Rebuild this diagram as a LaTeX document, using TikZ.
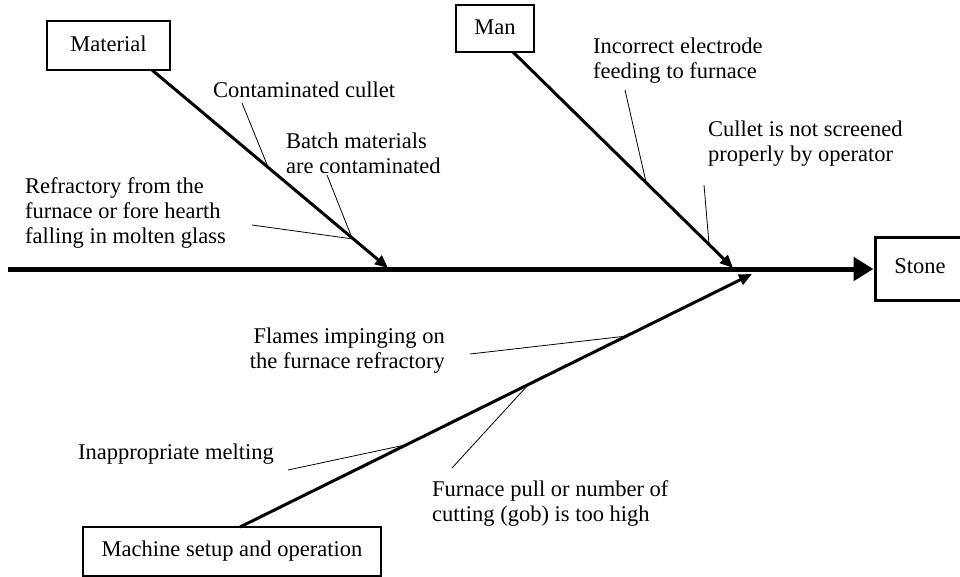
\documentclass[tikz,border=0pt]{standalone}
\usepackage{fontspec}
\setmainfont{Liberation Serif}
\usetikzlibrary{arrows.meta,calc}
\begin{document}
\begin{tikzpicture}[x=1pt,y=-1pt,
  every node/.style={font=\fontsize{22.5}{25}\selectfont},
  box/.style={draw, line width=1.3pt, inner sep=0pt},
  lbl/.style={inner sep=0pt, align=left, anchor=north west},
  spine/.style={line width=5pt, -{Triangle[length=20pt,width=23pt]}},
  bone/.style={line width=3pt, -{Triangle[length=13pt,width=11pt]}},
  twig/.style={line width=0.8pt}]
\useasboundingbox (0,0) rectangle (960,577);
% boxes
\node[box, minimum width=123pt, minimum height=49pt] (mat) at (108.5,45.5) {\raisebox{3pt}{Material}};
\node[box, minimum width=78pt, minimum height=47pt] (man) at (495,28.5) {\raisebox{2pt}{Man}};
\node[box, minimum width=298pt, minimum height=49pt] (mach) at (232,551.5) {\raisebox{1pt}{Machine setup and operation}};
\node[box, line width=3pt, minimum width=100pt, minimum height=62pt] (stone) at (925,269) {\hspace*{-10pt}\raisebox{6pt}{Stone}};
% spine
\coordinate (spS) at (8,269);
\draw[spine] (spS) -- (stone.west);
% bones
\coordinate (matS) at (152,70);
\coordinate (matT) at (388,268);
\draw[bone] (matS) -- (matT);
\coordinate (manS) at (513,52);
\coordinate (manT) at (733,268);
\draw[bone] (manS) -- (manT);
\coordinate (machS) at (240,527);
\coordinate (machT) at (752,274);
\draw[bone] (machS) -- (machT);
% labels
\node[lbl] (cc) at (213,82) {Contaminated cullet};
\node[lbl] (bm) at (286,133) {Batch materials\\are contaminated};
\node[lbl] (rf) at (25,177) {Refractory from the\\furnace or fore hearth\\falling in molten glass};
\node[lbl] (ie) at (593,38) {Incorrect electrode\\feeding to furnace};
\node[lbl] (cs) at (708,121) {Cullet is not screened\\properly by operator};
\node[lbl, align=right, anchor=north east] (fl) at (445,328) {Flames impinging on\\the furnace refractory};
\node[lbl] (im) at (78,444) {Inappropriate melting};
\node[lbl] (fp) at (432,480) {Furnace pull or number of\\cutting (gob) is too high};
% twigs
\coordinate (cc1) at (242,103); \coordinate (cc2) at (268,167);
\draw[twig] (cc1) -- (cc2);
\coordinate (bm1) at (327,175); \coordinate (bm2) at (352,238);
\draw[twig] (bm1) -- (bm2);
\coordinate (rf1) at (252,225); \coordinate (rf2) at (353,239);
\draw[twig] (rf1) -- (rf2);
\coordinate (ie1) at (625,90); \coordinate (ie2) at (646,182);
\draw[twig] (ie1) -- (ie2);
\coordinate (cs1) at (704,185); \coordinate (cs2) at (709,244);
\draw[twig] (cs1) -- (cs2);
\coordinate (fl1) at (470,354); \coordinate (fl2) at (627,336);
\draw[twig] (fl1) -- (fl2);
\coordinate (im1) at (288,470); \coordinate (im2) at (405,445);
\draw[twig] (im1) -- (im2);
\coordinate (fp1) at (452,468); \coordinate (fp2) at (528,385);
\draw[twig] (fp1) -- (fp2);
\end{tikzpicture}
\end{document}
